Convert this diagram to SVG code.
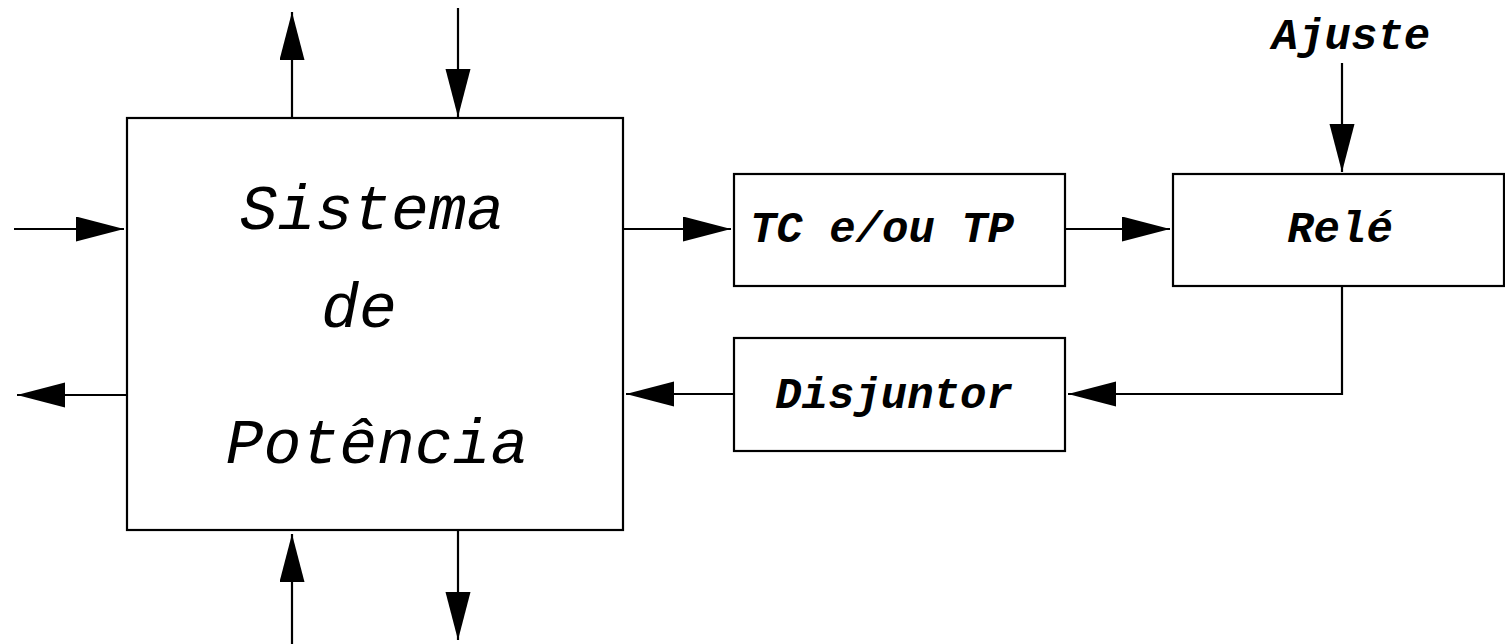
<svg xmlns="http://www.w3.org/2000/svg" width="1505" height="644" viewBox="0 0 1505 644">
  <style>
    .box { fill: #ffffff; stroke: #000000; stroke-width: 2.2; }
    .wire { fill: none; stroke: #000000; stroke-width: 2.2; }
    .lbl { font-family: "Liberation Mono", "Courier New", monospace; font-style: italic; fill: #000000; }
    .big { font-size: 63px; }
    .small { font-size: 44px; font-weight: bold; }
  </style>
  <defs>
    <marker id="arrow" markerUnits="userSpaceOnUse" markerWidth="50" markerHeight="26" refX="48" refY="12.5" orient="auto">
      <path d="M0,0 L48,12.5 L0,25 Z" fill="#000000"/>
    </marker>
  </defs>

  <rect width="1505" height="644" fill="#ffffff"/>

  <g id="connectors">
    <!-- external flows of the power system -->
    <line class="wire" x1="292" y1="118" x2="292" y2="12" marker-end="url(#arrow)"/>
    <line class="wire" x1="458" y1="8" x2="458" y2="117" marker-end="url(#arrow)"/>
    <line class="wire" x1="14" y1="229" x2="124" y2="229" marker-end="url(#arrow)"/>
    <line class="wire" x1="127" y1="395" x2="17" y2="395" marker-end="url(#arrow)"/>
    <line class="wire" x1="292" y1="644" x2="292" y2="534" marker-end="url(#arrow)"/>
    <line class="wire" x1="458" y1="530" x2="458" y2="640" marker-end="url(#arrow)"/>
    <!-- protection loop -->
    <line class="wire" x1="623" y1="229" x2="731" y2="229" marker-end="url(#arrow)"/>
    <line class="wire" x1="1065" y1="229" x2="1170" y2="229" marker-end="url(#arrow)"/>
    <line class="wire" x1="1342" y1="63" x2="1342" y2="172" marker-end="url(#arrow)"/>
    <polyline class="wire" points="1342,286 1342,394 1068,394" marker-end="url(#arrow)"/>
    <line class="wire" x1="734" y1="394" x2="626" y2="394" marker-end="url(#arrow)"/>
  </g>

  <g id="sistema">
    <rect class="box" x="127" y="118" width="496" height="412"/>
    <text class="lbl big" x="372" y="229" text-anchor="middle">Sistema</text>
    <text class="lbl big" x="359" y="327" text-anchor="middle">de</text>
    <text class="lbl big" x="377" y="463" text-anchor="middle">Potência</text>
  </g>

  <g id="tc-tp">
    <rect class="box" x="734" y="174" width="331" height="112"/>
    <text class="lbl small" x="882" y="242" text-anchor="middle">TC e/ou TP</text>
  </g>

  <g id="rele">
    <rect class="box" x="1173" y="174" width="331" height="112"/>
    <text class="lbl small" x="1340" y="242" text-anchor="middle">Relé</text>
  </g>

  <g id="disjuntor">
    <rect class="box" x="734" y="338" width="331" height="113"/>
    <text class="lbl small" x="894" y="408" text-anchor="middle">Disjuntor</text>
  </g>

  <g id="ajuste">
    <text class="lbl small" x="1351" y="49" text-anchor="middle">Ajuste</text>
  </g>
</svg>
